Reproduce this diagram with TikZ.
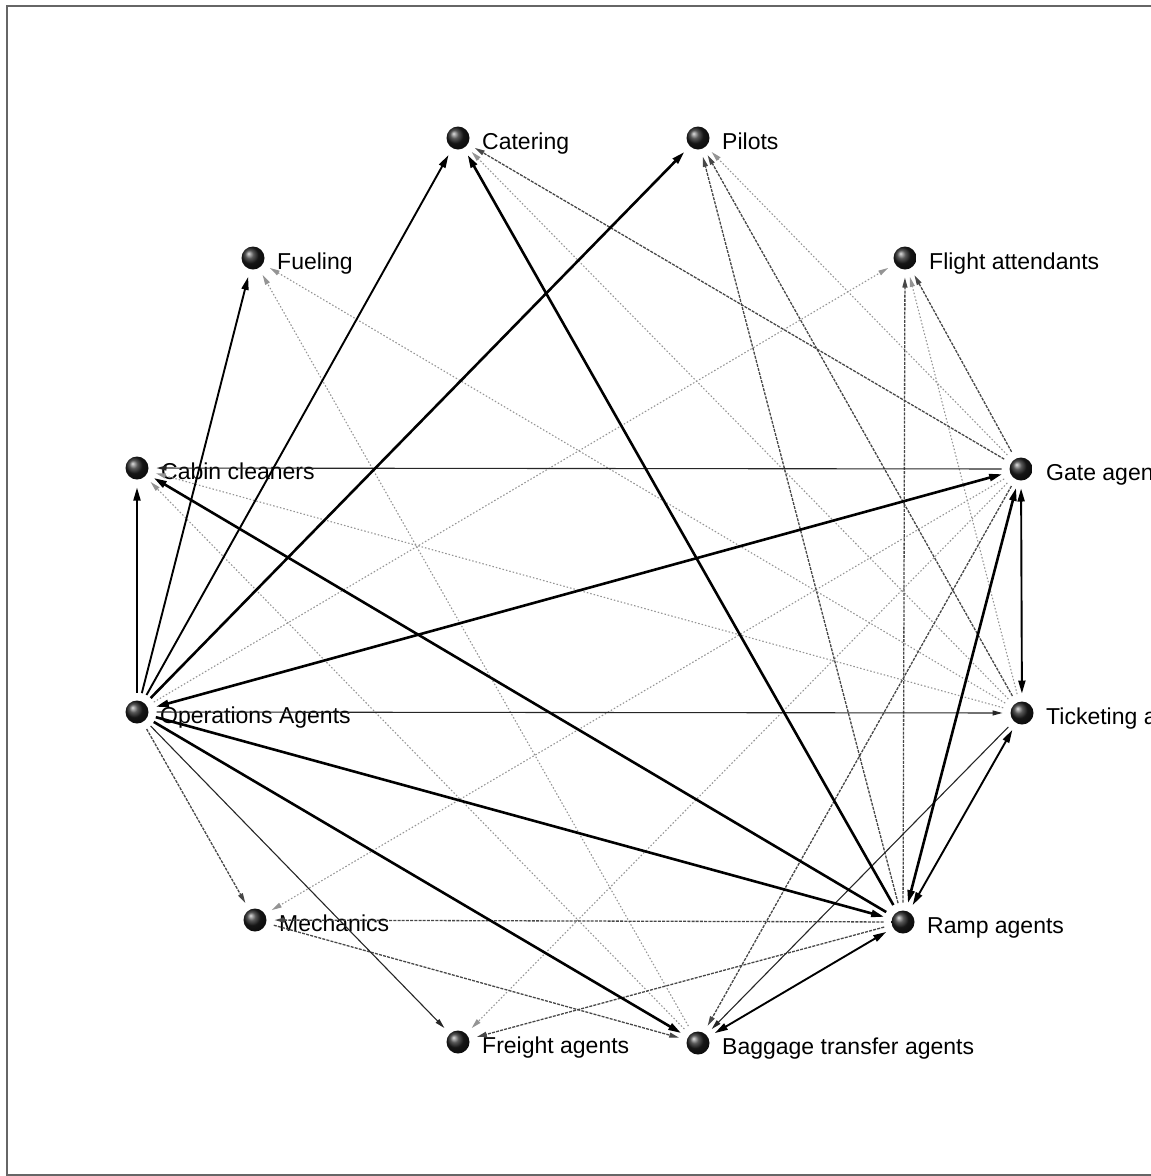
\documentclass[tikz,border=0pt]{standalone}
\usepackage{fontspec}
\setmainfont{Liberation Sans}
\usetikzlibrary{arrows.meta}
\begin{document}
\begin{tikzpicture}[x=1pt,y=-1pt,
  bigtip/.tip={Triangle[length=13pt,width=7pt]},
  smalltip/.tip={Triangle[length=10pt,width=5pt]},
  agent/.style={circle, minimum size=23pt, inner sep=0pt, outer sep=8pt, shading=ball, ball color=black!88},
  lbl/.style={anchor=base west, inner sep=0pt, font=\fontsize{23}{27}\selectfont, text=black},
  heavy/.style={line width=2.6pt, black, -bigtip},
  mid/.style={line width=1.9pt, black, -bigtip},
  fine/.style={line width=1.1pt, black!85, -smalltip},
  dashdark/.style={line width=1.3pt, black!72, dash pattern=on 3pt off 1.2pt, -smalltip},
  dotlight/.style={line width=1.1pt, black!42, dash pattern=on 1.5pt off 2pt, -smalltip},
]
\useasboundingbox (0,0) rectangle (1151,1176);
% frame
\draw[black!60, line width=2pt] (7,6) rectangle (1170,1175);

% agents on the ring
\node[agent] (cat) at (458,138) {};
\node[agent] (pil) at (698,138) {};
\node[agent] (fue) at (253,258) {};
\node[agent] (fa)  at (905,258) {};
\node[agent] (cc)  at (137,468) {};
\node[agent] (ga)  at (1021,469) {};
\node[agent] (oa)  at (137,712) {};
\node[agent] (ta)  at (1022,713) {};
\node[agent] (mec) at (255,920) {};
\node[agent] (ra)  at (903,922) {};
\node[agent] (fra) at (458,1042) {};
\node[agent] (bta) at (698,1043) {};

% names
\node[lbl] (catl) at (482,149) {Catering};
\node[lbl] (pill) at (722,149) {Pilots};
\node[lbl] (fuel) at (277,269) {Fueling};
\node[lbl] (fal)  at (929,269) {Flight attendants};
\node[lbl] (ccl)  at (161,479) {Cabin cleaners};
\node[lbl] (gal)  at (1046,480) {Gate agents};
\node[lbl] (oal)  at (160,723) {Operations Agents};
\node[lbl] (tal)  at (1046,724) {Ticketing agents};
\node[lbl] (mecl) at (279,931) {Mechanics};
\node[lbl] (ral)  at (927,933) {Ramp agents};
\node[lbl] (fral) at (482,1053) {Freight agents};
\node[lbl] (btal) at (722,1054) {Baggage transfer agents};

% light dotted ties
\draw[dotlight] (ga) -- (fra);
\draw[dotlight] (ga) -- (mec);
\draw[dotlight] (ga) -- (pil);
\draw[dotlight] (ta) -- (fa);
\draw[dotlight] (ta) -- (cat);
\draw[dotlight] (ta) -- (cc);
\draw[dotlight] (bta) -- (cc);
\draw[dotlight] (ta) -- (fue);
\draw[dotlight] (bta) -- (fue);
\draw[dotlight] (oa) -- (fa);

% dark dashed ties
\draw[dashdark] (oa) -- (mec);
\draw[dashdark] (ra) -- (fa);
\draw[dashdark] (ra) -- (mec);
\draw[dashdark] (mec) -- (bta);
\draw[dashdark] (ga) -- (cat);
\draw[dashdark] (ga) -- (fa);
\draw[dashdark] (ta) -- (pil);
\draw[dashdark] (ra) -- (pil);
\draw[dashdark] (ra) -- (fra);
\draw[dashdark] (ga) -- (bta);

% fine solid ties
\draw[fine] (oa) -- (fra);
\draw[fine] (oa) -- (ta);
\draw[fine] (ga) -- (cc);
\draw[fine] (ta) -- (bta);

% medium ties
\draw[mid] (oa) -- (cat);
\draw[mid] (oa) -- (fue);
\draw[mid] (oa) -- (cc);
\draw[mid, bigtip-bigtip] (ra) -- (ta);
\draw[mid, bigtip-bigtip] (ga) -- (ta);
\draw[mid, bigtip-bigtip] (ra) -- (bta);

% strong ties
\draw[heavy] (oa) -- (pil);
\draw[heavy, bigtip-bigtip] (oa) -- (ga);
\draw[heavy] (oa) -- (ra);
\draw[heavy] (oa) -- (bta);
\draw[heavy] (ra) -- (cc);
\draw[heavy] (ra) -- (cat);
\draw[heavy, bigtip-bigtip] (ra) -- (ga);
\end{tikzpicture}
\end{document}
